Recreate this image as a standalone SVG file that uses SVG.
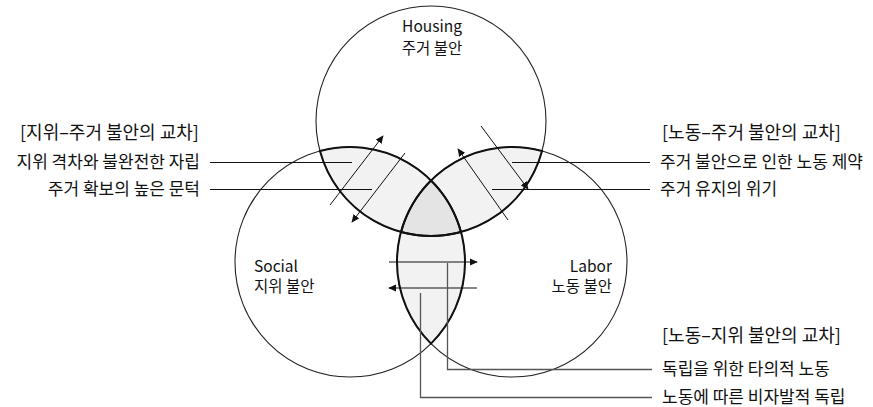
<svg xmlns="http://www.w3.org/2000/svg" width="873" height="407" viewBox="0 0 873 407">
  <style>
    text { font-family: "Noto Sans CJK KR", "Noto Sans", sans-serif; fill: #111; }
    .lbl { font-size: 15.5px; }
    .title { font-size: 18px; }
    .sub { font-size: 17px; }
    .circle { fill: none; stroke: #222; stroke-width: 1.1; }
    .lens { fill: #f2f2f2; }
    .triple { fill: #e4e4e4; }
    .lensline { fill: none; stroke: #111; stroke-width: 2; }
    .arrow { fill: none; stroke: #111; stroke-width: 1; }
    .lead { fill: none; stroke: #111; stroke-width: 1; }
    .leadg { fill: none; stroke: #555; stroke-width: 1.3; }
  </style>
  <defs>
    <marker id="ah" viewBox="0 0 10 10" refX="9" refY="5" markerWidth="8" markerHeight="8" markerUnits="userSpaceOnUse" orient="auto">
      <path d="M0,0.5 L10,5 L0,9.5 Z" fill="#111"/>
    </marker>
  </defs>

  <g id="fills">
    <path class="lens" d="M319.98 150.99 A115 115 0 0 0 461.02 232.01 A115 115 0 0 0 319.98 150.99 Z"/>
    <path class="lens" d="M542.02 150.99 A115 115 0 0 1 400.98 232.01 A115 115 0 0 1 542.02 150.99 Z"/>
    <path class="lens" d="M431 180.37 A115 115 0 0 1 431 343.63 A115 115 0 0 1 431 180.37 Z"/>
    <path class="triple" d="M431 180.37 A115 115 0 0 1 461.02 232.01 A115 115 0 0 1 400.98 232.01 A115 115 0 0 1 431 180.37 Z"/>
  </g>

  <g id="housing">
    <circle class="circle" cx="431" cy="121" r="115"/>
    <text class="lbl" x="432" y="32" text-anchor="middle">Housing</text>
    <text class="lbl" x="432" y="54" text-anchor="middle">주거 불안</text>
  </g>
  <g id="social">
    <circle class="circle" cx="350" cy="262" r="115"/>
    <text class="lbl" x="254" y="272">Social</text>
    <text class="lbl" x="254" y="292">지위 불안</text>
  </g>
  <g id="labor">
    <circle class="circle" cx="512" cy="262" r="115"/>
    <text class="lbl" x="612" y="272" text-anchor="end">Labor</text>
    <text class="lbl" x="612" y="292" text-anchor="end">노동 불안</text>
  </g>

  <g id="lens-outlines">
    <path class="lensline" d="M319.98 150.99 A115 115 0 0 0 461.02 232.01 A115 115 0 0 0 319.98 150.99 Z"/>
    <path class="lensline" d="M542.02 150.99 A115 115 0 0 1 400.98 232.01 A115 115 0 0 1 542.02 150.99 Z"/>
    <path class="lensline" d="M431 180.37 A115 115 0 0 1 431 343.63 A115 115 0 0 1 431 180.37 Z"/>
  </g>

  <g id="connectors">
    <line class="arrow" x1="330" y1="205" x2="383" y2="136" marker-end="url(#ah)"/>
    <line class="arrow" x1="405" y1="153" x2="352" y2="222" marker-end="url(#ah)"/>
    <line class="arrow" x1="508" y1="220" x2="458" y2="149" marker-end="url(#ah)"/>
    <line class="arrow" x1="481" y1="126" x2="528" y2="189" marker-end="url(#ah)"/>
    <line class="arrow" x1="389" y1="262" x2="477" y2="262" marker-end="url(#ah)"/>
    <line class="arrow" x1="477" y1="288" x2="389" y2="288" marker-end="url(#ah)"/>

    <line class="lead" x1="210" y1="162.5" x2="352" y2="162.5"/>
    <line class="lead" x1="210" y1="189.5" x2="372" y2="189.5"/>
    <line class="lead" x1="512" y1="162.5" x2="650" y2="162.5"/>
    <line class="lead" x1="492" y1="189.5" x2="650" y2="189.5"/>
    <polyline class="leadg" points="447.5,263 447.5,369.5 652,369.5"/>
    <polyline class="leadg" points="420.5,293 420.5,397.5 652,397.5"/>
  </g>

  <g id="callout-social-housing">
    <text class="title" x="20" y="139">[지위–주거 불안의 교차]</text>
    <text class="sub" x="200" y="168" text-anchor="end">지위 격차와 불완전한 자립</text>
    <text class="sub" x="200" y="195" text-anchor="end">주거 확보의 높은 문턱</text>
  </g>
  <g id="callout-labor-housing">
    <text class="title" x="662" y="139">[노동–주거 불안의 교차]</text>
    <text class="sub" x="660" y="168">주거 불안으로 인한 노동 제약</text>
    <text class="sub" x="660" y="195">주거 유지의 위기</text>
  </g>
  <g id="callout-labor-social">
    <text class="title" x="662" y="342">[노동–지위 불안의 교차]</text>
    <text class="sub" x="662" y="375">독립을 위한 타의적 노동</text>
    <text class="sub" x="662" y="403">노동에 따른 비자발적 독립</text>
  </g>
</svg>
